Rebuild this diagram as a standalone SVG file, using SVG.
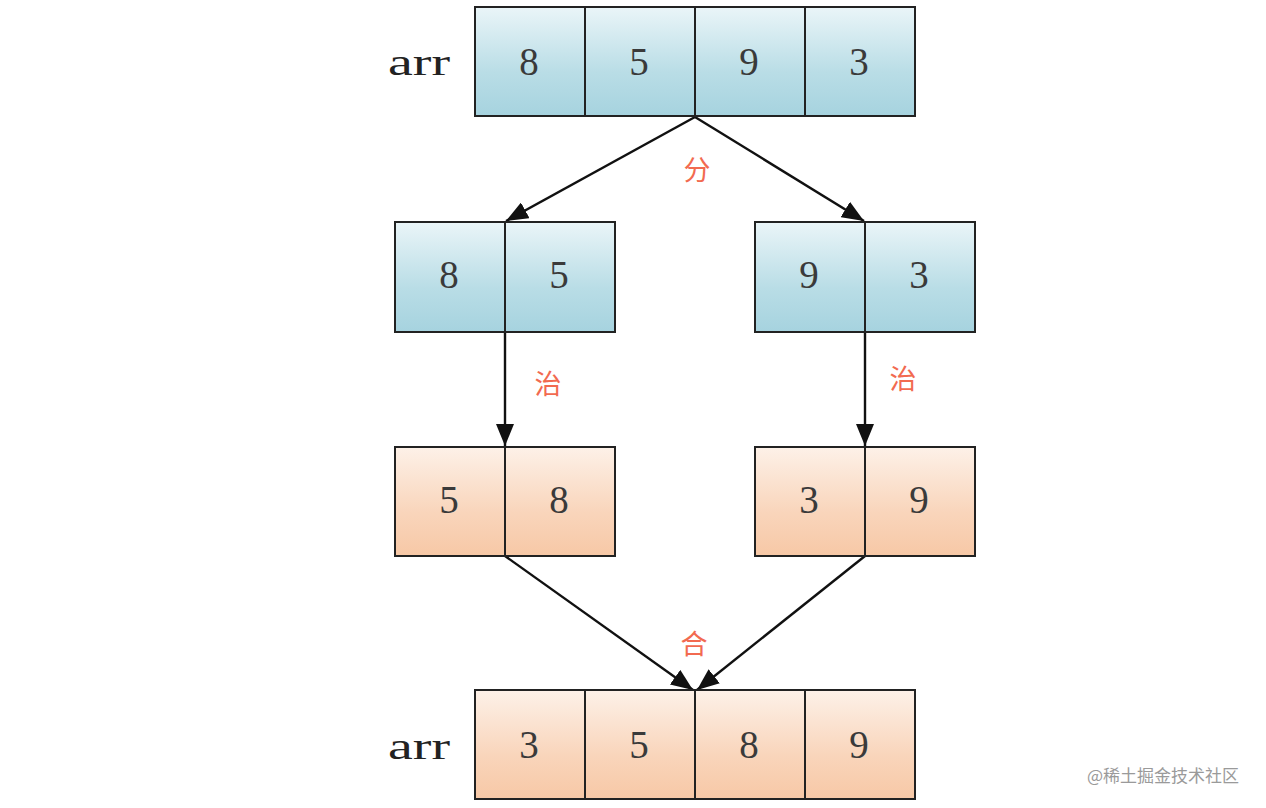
<svg xmlns="http://www.w3.org/2000/svg" width="1266" height="808" viewBox="0 0 1266 808">
<defs>
<linearGradient id="gb" x1="0" y1="0" x2="0" y2="1">
<stop offset="0" stop-color="#eaf5f8"/>
<stop offset="0.6" stop-color="#b9dde6"/>
<stop offset="1" stop-color="#a6d3df"/>
</linearGradient>
<linearGradient id="go" x1="0" y1="0" x2="0" y2="1">
<stop offset="0" stop-color="#fdf1e8"/>
<stop offset="0.6" stop-color="#f9d5bb"/>
<stop offset="1" stop-color="#f7c8a6"/>
</linearGradient>
<marker id="ah" viewBox="0 0 22 18" refX="22" refY="9" markerWidth="22" markerHeight="18" markerUnits="userSpaceOnUse" orient="auto">
<path d="M0,0 L22,9 L0,18 Z" fill="#111"/>
</marker>
<style>
.b{fill:url(#gb);stroke:#222;stroke-width:2}
.o{fill:url(#go);stroke:#222;stroke-width:2}
.n{font-family:"Liberation Serif","DejaVu Serif",serif;font-size:39px;fill:#3a3a3a;text-anchor:middle}
.a{font-family:"Liberation Serif","DejaVu Serif",serif;font-size:37px;fill:#222}
.l{font-family:"Noto Sans CJK SC",sans-serif;font-size:27px;fill:#f26a50;text-anchor:middle}
.c{stroke:#111;stroke-width:2.4;fill:none;marker-end:url(#ah)}
</style>
</defs>
<rect width="1266" height="808" fill="#fff"/>
<g id="connectors">
<line class="c" x1="695" y1="117" x2="506" y2="221"/>
<line class="c" x1="695" y1="117" x2="864" y2="221"/>
<line class="c" x1="505" y1="332" x2="505" y2="446"/>
<line class="c" x1="865" y1="332" x2="865" y2="446"/>
<line class="c" x1="505" y1="556" x2="693" y2="690"/>
<line class="c" x1="865" y1="556" x2="697" y2="690"/>
</g>
<g id="top">
<text class="a" x="388" y="75" textLength="62" lengthAdjust="spacingAndGlyphs">arr</text>
<rect class="b" x="475" y="7" width="110" height="109"/>
<rect class="b" x="585" y="7" width="110" height="109"/>
<rect class="b" x="695" y="7" width="110" height="109"/>
<rect class="b" x="805" y="7" width="110" height="109"/>
<text class="n" x="529" y="75">8</text>
<text class="n" x="639" y="75">5</text>
<text class="n" x="749" y="75">9</text>
<text class="n" x="859" y="75">3</text>
</g>
<g id="left-split">
<rect class="b" x="395" y="222" width="110" height="110"/>
<rect class="b" x="505" y="222" width="110" height="110"/>
<text class="n" x="449" y="288">8</text>
<text class="n" x="559" y="288">5</text>
</g>
<g id="right-split">
<rect class="b" x="755" y="222" width="110" height="110"/>
<rect class="b" x="865" y="222" width="110" height="110"/>
<text class="n" x="809" y="288">9</text>
<text class="n" x="919" y="288">3</text>
</g>
<g id="left-sorted">
<rect class="o" x="395" y="447" width="110" height="109"/>
<rect class="o" x="505" y="447" width="110" height="109"/>
<text class="n" x="449" y="513">5</text>
<text class="n" x="559" y="513">8</text>
</g>
<g id="right-sorted">
<rect class="o" x="755" y="447" width="110" height="109"/>
<rect class="o" x="865" y="447" width="110" height="109"/>
<text class="n" x="809" y="513">3</text>
<text class="n" x="919" y="513">9</text>
</g>
<g id="bottom">
<text class="a" x="388" y="759" textLength="62" lengthAdjust="spacingAndGlyphs">arr</text>
<rect class="o" x="475" y="690" width="110" height="109"/>
<rect class="o" x="585" y="690" width="110" height="109"/>
<rect class="o" x="695" y="690" width="110" height="109"/>
<rect class="o" x="805" y="690" width="110" height="109"/>
<text class="n" x="529" y="758">3</text>
<text class="n" x="639" y="758">5</text>
<text class="n" x="749" y="758">8</text>
<text class="n" x="859" y="758">9</text>
</g>
<g id="labels">
<text class="l" x="697" y="180">分</text>
<text class="l" x="548" y="394">治</text>
<text class="l" x="903" y="389">治</text>
<text class="l" x="694" y="654">合</text>
</g>
<text x="1163" y="782" font-family="Noto Sans CJK SC,sans-serif" font-size="17" fill="#9a9a9a" text-anchor="middle">@稀土掘金技术社区</text>
</svg>
